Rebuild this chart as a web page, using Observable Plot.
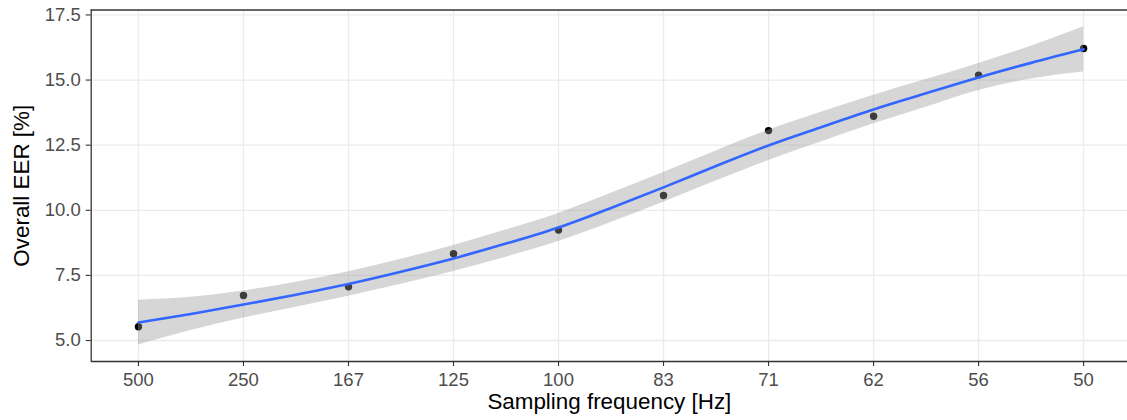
<!DOCTYPE html>
<html>
<head>
<meta charset="utf-8">
<script src="https://cdn.jsdelivr.net/npm/d3@7"></script>
<script src="https://cdn.jsdelivr.net/npm/@observablehq/plot@0.6"></script>
<style>
  html, body { margin: 0; padding: 0; background: #ffffff; }
  #chart svg { display: block; }
</style>
</head>
<body>
<div id="chart"></div>
<script>
// Categories (sampling frequency, Hz) and observed EER values (%)
const freqLabels = ["500", "250", "167", "125", "100", "83", "71", "62", "56", "50"];
const freqIndex = [0, 1, 2, 3, 4, 5, 6, 7, 8, 9];
const eerValues = [5.53, 6.73, 7.06, 8.33, 9.24, 10.57, 13.06, 13.61, 15.19, 16.21];

// Smoothed (loess) fit and confidence band
const smoothPos   = [0, 0.5, 1, 1.5, 2, 2.5, 3, 3.5, 4, 4.5, 5, 5.5, 6, 6.5, 7, 7.5, 8, 8.5, 9];
const smoothFit   = [5.69, 6.02, 6.38, 6.76, 7.17, 7.64, 8.15, 8.72, 9.34, 10.09, 10.88, 11.70, 12.49, 13.19, 13.87, 14.49, 15.10, 15.66, 16.18];
const smoothUpper = [6.55, 6.66, 6.90, 7.24, 7.64, 8.12, 8.65, 9.24, 9.88, 10.65, 11.45, 12.28, 13.07, 13.76, 14.42, 15.02, 15.64, 16.30, 17.05];
const smoothLower = [4.83, 5.38, 5.86, 6.28, 6.70, 7.16, 7.65, 8.20, 8.80, 9.53, 10.31, 11.12, 11.91, 12.62, 13.32, 13.96, 14.60, 15.04, 15.31];

// Tick values
const yTicks = [5.0, 7.5, 10.0, 12.5, 15.0, 17.5];

const xTitle = "Sampling frequency [Hz]";
const yTitle = "Overall EER [%]";

const points = freqIndex.map((i) => ({x: i, y: eerValues[i]}));
const smooth = smoothPos.map((p, k) => ({x: p, fit: smoothFit[k], lo: smoothLower[k], hi: smoothUpper[k]}));

const xDomain = [-0.45, 9.418];
const yDomain = [4.194, 17.69];

const tickFont = 18.5;
const titleFont = 22.4;

const chart = Plot.plot({
  width: 1127,
  height: 420,
  marginLeft: 90.7,
  marginRight: 0,
  marginTop: 9.5,
  marginBottom: 59,
  style: {fontFamily: "'Liberation Sans', Arial, Helvetica, sans-serif", background: "#ffffff", overflow: "visible"},
  x: {type: "linear", domain: xDomain, axis: null},
  y: {type: "linear", domain: yDomain, axis: null},
  marks: [
    Plot.gridX({ticks: freqIndex, stroke: "#ebebeb", strokeOpacity: 1, strokeWidth: 1.3}),
    Plot.gridY({ticks: yTicks, stroke: "#ebebeb", strokeOpacity: 1, strokeWidth: 1.3}),
    Plot.dot(points, {x: "x", y: "y", r: 3.7, fill: "#000000", stroke: "none"}),
    Plot.areaY(smooth, {x: "x", y1: "lo", y2: "hi", fill: "#999999", fillOpacity: 0.4, curve: "monotone-x"}),
    Plot.line(smooth, {x: "x", y: "fit", stroke: "#3366FF", strokeWidth: 2.6, curve: "monotone-x"}),
    Plot.axisX({
      ticks: freqIndex,
      tickFormat: (i) => freqLabels[i],
      tickSize: 5,
      tickPadding: 6,
      fontSize: tickFont,
      stroke: "#333333",
      fill: "#4d4d4d",
      strokeWidth: 1.1,
      label: null
    }),
    Plot.axisY({
      ticks: yTicks,
      tickFormat: d3.format(".1f"),
      tickSize: 5,
      tickPadding: 5.5,
      fontSize: tickFont,
      stroke: "#333333",
      fill: "#4d4d4d",
      strokeWidth: 1.1,
      label: null
    }),
    Plot.ruleX([xDomain[0]], {stroke: "#333333", strokeWidth: 1.3}),
    Plot.ruleY([yDomain[0], yDomain[1]], {stroke: "#333333", strokeWidth: 1.3}),
    Plot.text([xTitle], {
      frameAnchor: "bottom",
      text: (d) => d,
      dy: 47,
      lineAnchor: "bottom",
      fontSize: titleFont,
      fill: "#000000"
    }),
    Plot.text([yTitle], {
      frameAnchor: "left",
      text: (d) => d,
      dx: -69,
      rotate: -90,
      lineAnchor: "middle",
      textAnchor: "middle",
      fontSize: titleFont,
      fill: "#000000"
    })
  ]
});

document.getElementById("chart").appendChild(chart);
</script>
</body>
</html>
